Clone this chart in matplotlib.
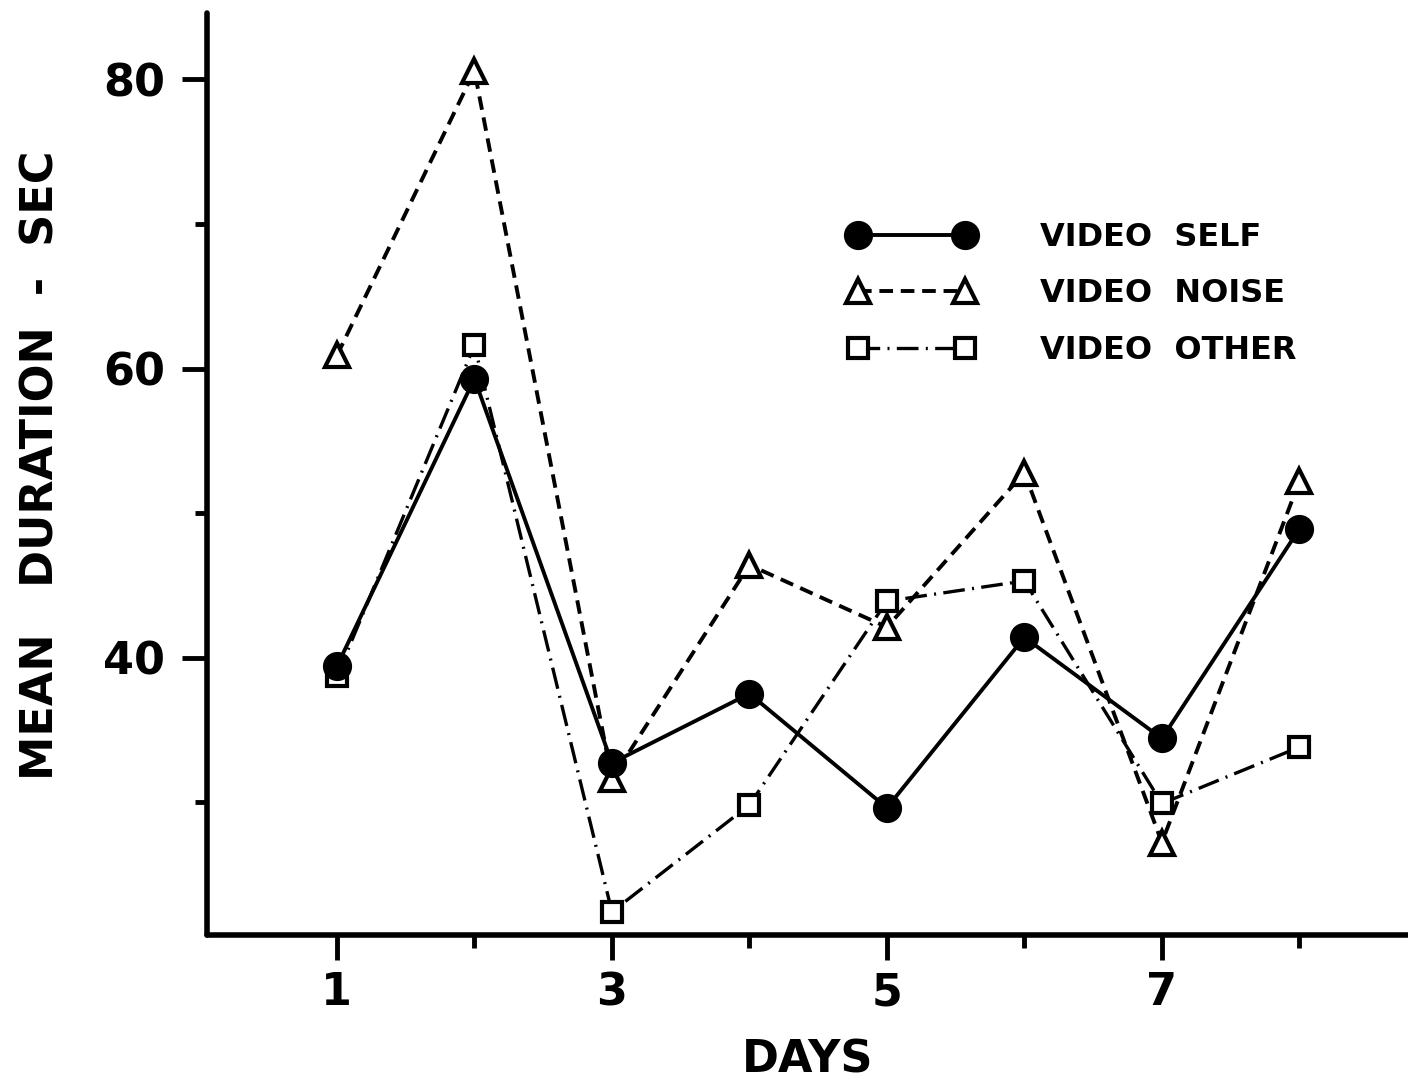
import matplotlib
matplotlib.use("Agg")
import matplotlib.pyplot as plt

# mean duration (sec) per day for the three video conditions
days = [1, 2, 3, 4, 5, 6, 7, 8]
video_self = [39.4, 59.3, 32.7, 37.5, 29.6, 41.4, 34.4, 48.9]
video_noise = [60.9, 80.6, 31.6, 46.4, 42.1, 52.8, 27.2, 52.2]
video_other = [38.7, 61.6, 22.4, 29.8, 43.9, 45.3, 29.9, 33.8]

labels = ["VIDEO  SELF", "VIDEO  NOISE", "VIDEO  OTHER"]
major_days = [1, 3, 5, 7]
minor_days = [2, 4, 6, 8]
major_y = [40, 60, 80]
minor_y = [30, 50, 70]

plt.rcParams["font.family"] = "DejaVu Sans"
plt.rcParams["font.weight"] = "bold"

fig = plt.figure(figsize=(14.08, 10.8), dpi=100)
ax = fig.add_axes([207 / 1408, 1 - 935 / 1080, 1 - 207 / 1408, (935 - 13) / 1080])

# other first so the filled circles sit on top
l_other, = ax.plot(days, video_other, color="black", lw=2.4,
                   linestyle=(0, (6.5, 2.2, 0.6, 2.2)),
                   marker="s", ms=15, mfc="white", mec="black", mew=3, zorder=3)
l_noise, = ax.plot(days, video_noise, color="black", lw=2.8,
                   linestyle=(0, (3.5, 2.0)),
                   marker="^", ms=17, mfc="white", mec="black", mew=3, zorder=4)
l_self, = ax.plot(days, video_self, color="black", lw=2.8, linestyle="-",
                  marker="o", ms=20, mfc="black", mec="black", zorder=5)

ax.set_xlim(0.055, 8.79)
ax.set_ylim(20.8, 84.6)

ax.set_xticks(major_days)
ax.set_xticks(minor_days, minor=True)
ax.set_yticks(major_y)
ax.set_yticks(minor_y, minor=True)

for s in ["top", "right"]:
    ax.spines[s].set_visible(False)
for s in ["left", "bottom"]:
    ax.spines[s].set_linewidth(4)
    ax.spines[s].set_capstyle("round")

ax.tick_params(which="major", direction="out", length=18, width=3.5, labelsize=32, pad=8)
ax.tick_params(which="minor", direction="out", length=9, width=3.5)
ax.tick_params(axis="y", which="major", pad=12)

ax.set_xlabel("DAYS", fontsize=32, fontweight="bold")
ax.xaxis.set_label_coords(0.5, -0.112)
ax.set_ylabel("MEAN   DURATION  -  SEC", fontsize=32, fontweight="bold")
ax.yaxis.set_label_coords(-0.12, 0.51)

leg = ax.legend([l_self, l_noise, l_other], labels, frameon=False, numpoints=2,
                handlelength=3.95, handletextpad=2.05, labelspacing=0.8,
                borderpad=0, borderaxespad=0, loc="center left",
                bbox_to_anchor=(848 / 1408, 1 - 294 / 1080),
                bbox_transform=fig.transFigure,
                prop={"size": 23, "weight": "bold"})

fig.savefig("out.png", dpi=100, facecolor="white")
